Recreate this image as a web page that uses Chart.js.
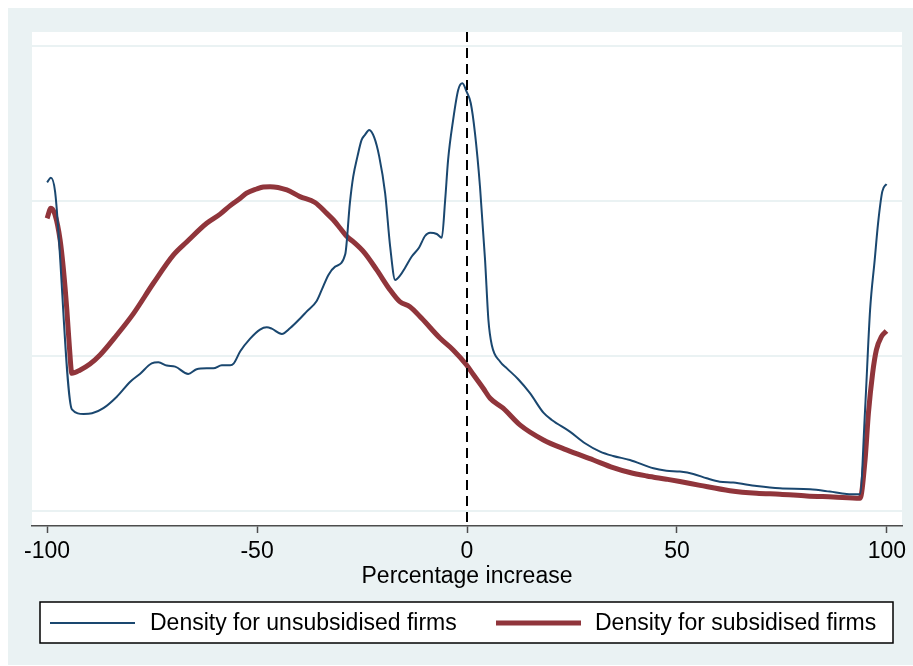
<!DOCTYPE html>
<html>
<head>
<meta charset="utf-8">
<script src="https://cdn.jsdelivr.net/npm/chart.js@4/dist/chart.umd.min.js"></script>
<style>
  html, body { margin: 0; padding: 0; background: #ffffff; }
  canvas { display: block; }
</style>
</head>
<body>
<canvas id="chart" width="913" height="666"></canvas>
<script>
/* kernel densities of percentage increase */

const seriesLabels = ['Density for unsubsidised firms', 'Density for subsidised firms'];
const xTicks = [-100, -50, 0, 50, 100];
const refLineX = 0;

// unsubsidised (thin navy)
const unsubX = [-100, -99.1, -98.1, -94.1, -91.3, -89.3, -86.6, -83.4, -80.2, -77.9,
    -75.1, -73.5, -71.5, -69.5, -66.4, -64.4, -62.0, -60.4, -58.4, -56.4,
    -55.6, -54.0, -51.7, -49.3, -47.7, -46.5, -44.1, -42.1, -39.8, -38.2,
    -35.8, -34.6, -33.0, -31.4, -29.0, -27.9, -27.1, -26.1, -25.1, -24.3,
    -23.3, -22.1, -20.9, -19.5, -18.3, -17.1, -16.0, -14.8, -13.2, -11.4,
    -10.0, -8.8, -7.2, -6.0, -5.2, -4.5, -3.3, -2.1, -1.1, -0.1,
    0.9, 1.9, 3.1, 4.3, 5.1, 5.9, 7.9, 9.5, 12.2, 15.0,
    18.2, 20.2, 24.5, 28.1, 31.7, 34.8, 38.8, 44.4, 47.5, 50.7,
    53.9, 57.1, 60.2, 63.4, 69.0, 74.5, 81.7, 86.4, 90.4, 93.6,
    94.8, 96.0, 97.1, 97.9, 98.9, 99.9];
const unsubY = [2.12, 2.15, 2.06, 0.656, 0.626, 0.63, 0.663, 0.737, 0.834, 0.884,
    0.952, 0.959, 0.938, 0.931, 0.884, 0.914, 0.92, 0.92, 0.94, 0.94,
    0.95, 1.03, 1.11, 1.17, 1.185, 1.176, 1.142, 1.18, 1.24, 1.286,
    1.355, 1.426, 1.523, 1.576, 1.656, 1.985, 2.157, 2.286, 2.394, 2.426,
    2.458, 2.41, 2.286, 2.05, 1.705, 1.49, 1.516, 1.566, 1.64, 1.70,
    1.774, 1.795, 1.787, 1.763, 2.006, 2.265, 2.523, 2.716, 2.759, 2.705,
    2.63, 2.437, 2.09, 1.62, 1.232, 1.071, 0.963, 0.92, 0.85, 0.76,
    0.634, 0.587, 0.512, 0.437, 0.383, 0.355, 0.329, 0.275, 0.26, 0.254,
    0.239, 0.211, 0.189, 0.183, 0.161, 0.146, 0.14, 0.125, 0.11, 0.108,
    0.65, 1.297, 1.62, 1.856, 2.06, 2.11];

// subsidised (thick maroon)
const subX = [-100, -99.1, -98.1, -96.9, -96.1, -95.3, -94.7, -94.1, -92.1, -89.8,
    -87.4, -83.4, -79.4, -74.7, -69.9, -66.7, -62.0, -58.8, -56.4, -54.0,
    -52.5, -50.1, -48.5, -46.9, -42.9, -39.8, -36.2, -33.4, -31.8, -30.2,
    -28.6, -27.1, -24.5, -21.5, -18.3, -16.0, -13.6, -10.8, -6.4, -3.3,
    -0.1, 1.5, 3.9, 5.5, 8.6, 12.6, 18.2, 23.7, 30.1, 34.8,
    38.8, 42.8, 47.5, 50.7, 55.5, 62.6, 69.0, 74.5, 80.9, 87.2,
    93.6, 94.8, 95.6, 96.6, 97.5, 98.7, 99.9];
const subY = [1.888, 1.953, 1.91, 1.748, 1.555, 1.297, 1.06, 0.888, 0.91, 0.948,
    1.006, 1.135, 1.275, 1.469, 1.652, 1.737, 1.856, 1.915, 1.97, 2.017,
    2.05, 2.077, 2.09, 2.092, 2.071, 2.028, 1.99, 1.92, 1.877, 1.824,
    1.77, 1.737, 1.668, 1.555, 1.425, 1.35, 1.318, 1.243, 1.114, 1.039,
    0.942, 0.88, 0.79, 0.727, 0.663, 0.555, 0.458, 0.394, 0.329, 0.28,
    0.248, 0.226, 0.205, 0.19, 0.165, 0.131, 0.114, 0.108, 0.097, 0.09,
    0.082, 0.329, 0.63, 0.888, 1.039, 1.125, 1.161];

const NAVY = '#1a476f';
const MAROON = '#90353b';
const BG = '#eaf2f3';
const FONT = '"Liberation Sans", Arial, sans-serif';

function toPoints( xs, ys ) {
    return xs.map( ( x, i ) => ({ x: x, y: ys[i] }) );
}

// outer grey-blue frame, white plot region, dashed line at 0, legend box
const stataFrame = {
    id: 'stataFrame',
    beforeDraw( chart ) {
        const { ctx, chartArea: a } = chart;
        ctx.save();
        ctx.fillStyle = '#ffffff';
        ctx.fillRect( 0, 0, chart.width, chart.height );
        ctx.fillStyle = BG;
        ctx.fillRect( 8, 8, chart.width - 8, chart.height - 9 );
        ctx.fillStyle = '#ffffff';
        ctx.fillRect( a.left, a.top, a.right - a.left, a.bottom - a.top );
        ctx.restore();
    },
    afterDatasetsDraw( chart ) {
        const { ctx, chartArea: a } = chart;
        const px = chart.scales.x.getPixelForValue( refLineX );
        ctx.save();
        ctx.strokeStyle = '#000000';
        ctx.lineWidth = 2;
        ctx.setLineDash( [10, 6] );
        ctx.beginPath();
        ctx.moveTo( px, a.top );
        ctx.lineTo( px, a.bottom );
        ctx.stroke();
        ctx.restore();
    },
    afterDraw( chart ) {
        const ctx = chart.ctx;
        ctx.save();
        ctx.fillStyle = '#ffffff';
        ctx.fillRect( 40, 602, 853, 41 );
        ctx.strokeStyle = '#000000';
        ctx.lineWidth = 1.5;
        ctx.strokeRect( 40, 602, 853, 41 );

        const items = [
            { x0: 50, x1: 135, tx: 150 },
            { x0: 496, x1: 581, tx: 595 }
        ];
        ctx.font = '23px ' + FONT;
        ctx.textBaseline = 'middle';
        chart.data.datasets.forEach( ( ds, i ) => {
            const it = items[i];
            ctx.strokeStyle = ds.borderColor;
            ctx.lineWidth = ds.borderWidth;
            ctx.lineCap = 'butt';
            ctx.beginPath();
            ctx.moveTo( it.x0, 623 );
            ctx.lineTo( it.x1, 623 );
            ctx.stroke();
            ctx.fillStyle = '#000000';
            ctx.fillText( ds.label, it.tx, 624 );
        });
        ctx.restore();
    }
};

const ctx = document.getElementById('chart').getContext('2d');
const chart = new Chart(ctx, {
    type: 'line',
    data: {
        datasets: [{
            label: seriesLabels[0],
            data: toPoints( unsubX, unsubY ),
            borderColor: NAVY,
            borderWidth: 2,
            pointRadius: 0,
            fill: false,
            cubicInterpolationMode: 'monotone'
        }, {
            label: seriesLabels[1],
            data: toPoints( subX, subY ),
            borderColor: MAROON,
            borderWidth: 5,
            pointRadius: 0,
            fill: false,
            cubicInterpolationMode: 'monotone'
        }]
    },
    options: {
        responsive: false,
        devicePixelRatio: 1,
        animation: false,
        layout: {
            padding: { left: 32, top: 32, right: 11, bottom: 0 }
        },
        plugins: {
            legend: { display: false },
            tooltip: { enabled: false }
        },
        scales: {
            x: {
                type: 'linear',
                min: -103.6,
                max: 103.6,
                afterBuildTicks: ( scale ) => {
                    scale.ticks = xTicks.map( v => ({ value: v }) );
                },
                afterFit: ( scale ) => { scale.height = 140; },
                grid: {
                    drawOnChartArea: false,
                    drawTicks: true,
                    tickLength: 7,
                    tickWidth: 1.5,
                    color: '#4d4d4d'
                },
                border: { display: true, color: '#4d4d4d', width: 1.5 },
                ticks: {
                    color: '#000000',
                    padding: 5,
                    maxRotation: 0,
                    font: { family: FONT, size: 23 }
                },
                title: {
                    display: true,
                    text: 'Percentage increase',
                    color: '#000000',
                    font: { family: FONT, size: 23 },
                    padding: { top: 0, bottom: 76 }
                }
            },
            y: {
                min: -0.097,
                max: 3.09,
                afterBuildTicks: ( scale ) => {
                    scale.ticks = [0, 1, 2, 3].map( v => ({ value: v }) );
                },
                afterFit: ( scale ) => { scale.width = 0; },
                ticks: { display: false },
                grid: {
                    drawTicks: false,
                    color: BG,
                    lineWidth: 2
                },
                border: { display: false }
            }
        }
    },
    plugins: [stataFrame]
});
</script>
</body>
</html>
